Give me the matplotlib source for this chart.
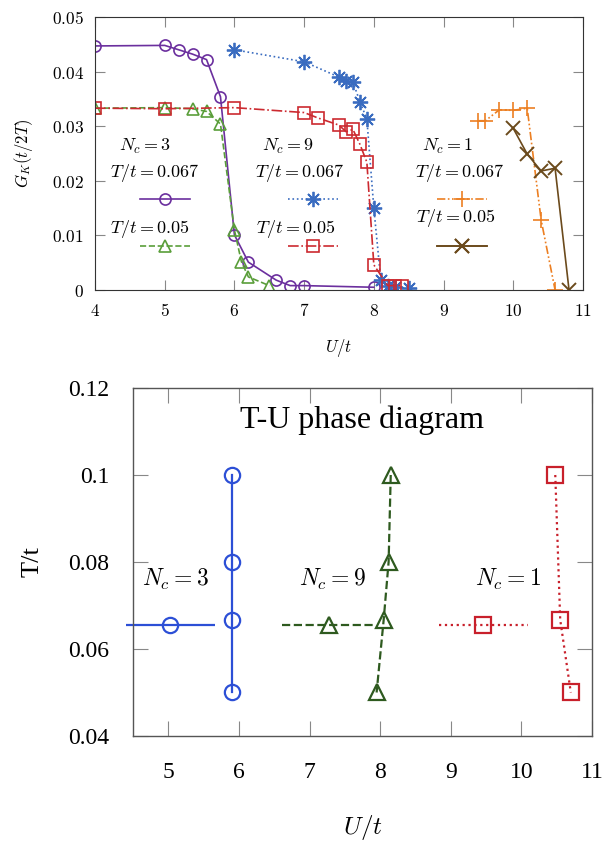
import matplotlib
matplotlib.use("Agg")
import matplotlib.pyplot as plt
from matplotlib.ticker import FuncFormatter

plt.rcParams['mathtext.fontset'] = 'cm'

# --- 上段: G_K(t/2T) vs U/t ---
u_nc3_t067 = [4.0, 5.0, 5.2, 5.4, 5.6, 5.8, 6.0, 6.2, 6.6, 6.8, 7.0, 8.0]
g_nc3_t067 = [0.0447, 0.0448, 0.0440, 0.0432, 0.0422, 0.0354, 0.0101, 0.0051, 0.0018, 0.0008, 0.0008, 0.0005]

u_nc3_t05 = [4.0, 5.0, 5.4, 5.6, 5.8, 6.0, 6.1, 6.2, 6.5]
g_nc3_t05 = [0.0333, 0.0334, 0.0332, 0.0327, 0.0304, 0.0110, 0.0052, 0.0024, 0.0008]

u_nc9_t067 = [6.0, 7.0, 7.5, 7.6, 7.7, 7.8, 7.9, 8.0, 8.1, 8.2, 8.3, 8.5]
g_nc9_t067 = [0.0440, 0.0418, 0.0390, 0.0382, 0.0381, 0.0345, 0.0313, 0.0150, 0.0018, 0.0008, 0.0005, 0.0003]

u_nc9_t05 = [4.0, 5.0, 6.0, 7.0, 7.2, 7.5, 7.6, 7.7, 7.8, 7.9, 8.0, 8.2, 8.3, 8.4]
g_nc9_t05 = [0.0333, 0.0332, 0.0334, 0.0325, 0.0315, 0.0302, 0.0290, 0.0294, 0.0267, 0.0234, 0.0046, 0.0008, 0.0008, 0.0008]

u_nc1_t067 = [9.5, 9.6, 9.8, 10.0, 10.2, 10.4, 10.6]
g_nc1_t067 = [0.0310, 0.0310, 0.0330, 0.0329, 0.0333, 0.0128, 0.0]

u_nc1_t05 = [10.0, 10.2, 10.4, 10.6, 10.8]
g_nc1_t05 = [0.0296, 0.0249, 0.0218, 0.0223, 0.0]

# --- 下段: T-U 相図 ---
pd_nc3_u = [5.9, 5.9, 5.9, 5.9]
pd_nc3_T = [0.1, 0.08, 0.0667, 0.05]
pd_nc9_u = [8.15, 8.12, 8.05, 7.95]
pd_nc9_T = [0.1, 0.08, 0.0667, 0.05]
pd_nc1_u = [10.48, 10.55, 10.7]
pd_nc1_T = [0.1, 0.0667, 0.05]

# 横方向のバー (T/t = 0.0655 付近)
bar_T = 0.0655
bar_u = [5.03, 7.27, 9.46]
bar_err = [0.63, 0.66, 0.63]

purple = '#6b2f9e'
green = '#5a9e3a'
blue = '#3a6cc0'
red = '#cc2a30'
orange = '#ec7f22'
brown = '#6b4a1c'

fig = plt.figure(figsize=(6.05, 8.42), dpi=100)

# ================= 上段 =================
ax1 = fig.add_axes([0.157, 0.6556, 0.8066, 0.3242])
lw = 1.2
ms = 8
h_nc3_t067, = ax1.plot(u_nc3_t067, g_nc3_t067, '-', color=purple, lw=lw,
                       marker='o', ms=ms, mfc='none', mew=1.2)
h_nc3_t05, = ax1.plot(u_nc3_t05, g_nc3_t05, '--', color=green, lw=lw,
                      marker='^', ms=ms, mfc='none', mew=1.2)
# gnuplot の '*' (+ と x の重ね)
h_nc9_t067, = ax1.plot(u_nc9_t067, g_nc9_t067, ':', color=blue, lw=lw,
                       marker=(8, 2, 0), ms=ms + 3, mew=1.3)
h_nc9_t05, = ax1.plot(u_nc9_t05, g_nc9_t05, '-.', color=red, lw=lw,
                      marker='s', ms=ms, mfc='none', mew=1.2)
h_nc1_t067, = ax1.plot(u_nc1_t067, g_nc1_t067, color=orange, lw=lw,
                       linestyle=(0, (5, 1.5, 1, 1.5, 1, 1.5)),
                       marker='+', ms=ms + 3, mew=1.2)
h_nc1_t05, = ax1.plot(u_nc1_t05, g_nc1_t05, '-', color=brown, lw=lw,
                      marker='x', ms=ms + 2, mew=1.4)

ax1.set_xlim(4, 11)
ax1.set_ylim(0, 0.05)
ax1.set_xticks(range(4, 12))
ax1.set_yticks([0, 0.01, 0.02, 0.03, 0.04, 0.05])
ax1.xaxis.set_major_formatter(FuncFormatter(lambda v, p: f'${v:g}$'))
ax1.yaxis.set_major_formatter(FuncFormatter(lambda v, p: f'${v:g}$'))
ax1.tick_params(direction='in', top=True, right=True, length=7, width=0.8,
                color='#888888', labelsize=12.5)
ax1.tick_params(axis='x', pad=9)
ax1.tick_params(axis='y', pad=8)
for s in ax1.spines.values():
    s.set_color('#333333')
    s.set_linewidth(0.8)
ax1.set_xlabel('$U/t$', fontsize=12, labelpad=12)
ax1.set_ylabel('$G_K(t/2T)$', fontsize=12, labelpad=12)

# 凡例の文字 (gnuplot 風に手動配置)
txt = dict(fontsize=13, ha='center', va='center')
ax1.text(4.72, 0.0262, '$N_c = 3$', **txt)
ax1.text(4.86, 0.0214, '$T/t = 0.067$', **txt)
ax1.text(4.79, 0.0111, '$T/t = 0.05$', **txt)
ax1.text(6.77, 0.0262, '$N_c = 9$', **txt)
ax1.text(6.94, 0.0214, '$T/t = 0.067$', **txt)
ax1.text(6.88, 0.0111, '$T/t = 0.05$', **txt)
ax1.text(9.05, 0.0262, '$N_c = 1$', **txt)
ax1.text(9.23, 0.0214, '$T/t = 0.067$', **txt)
ax1.text(9.17, 0.0131, '$T/t = 0.05$', **txt)

# 凡例のサンプル線
samples = [
    (h_nc3_t067, 5.0, 0.0165),
    (h_nc3_t05, 5.0, 0.0079),
    (h_nc9_t067, 7.13, 0.0165),
    (h_nc9_t05, 7.13, 0.0079),
    (h_nc1_t067, 9.27, 0.0165),
    (h_nc1_t05, 9.27, 0.0079),
]
for h, x, y in samples:
    leg = ax1.legend([h], [''], loc='center', bbox_to_anchor=(x, y),
                     bbox_transform=ax1.transData, frameon=False,
                     handlelength=3.0, handletextpad=0, borderpad=0,
                     borderaxespad=0, numpoints=1, fontsize=12)
    ax1.add_artist(leg)

# ================= 下段 =================
ax2 = fig.add_axes([0.2198, 0.1259, 0.7587, 0.4133])
lw2 = 1.6
ms2 = 11
ax2.plot(pd_nc3_u, pd_nc3_T, '-', color='#2c4fd6', lw=lw2,
         marker='o', ms=ms2, mfc='none', mew=1.6)
ax2.plot(pd_nc9_u, pd_nc9_T, '--', color='#2e5a1f', lw=lw2,
         marker='^', ms=ms2, mfc='none', mew=1.6)
ax2.plot(pd_nc1_u, pd_nc1_T, ':', color='#c8202b', lw=lw2,
         marker='s', ms=ms2, mfc='none', mew=1.6)

bar_styles = [('o', '#2c4fd6', '-'), ('^', '#2e5a1f', '--'), ('s', '#c8202b', ':')]
for u, err, (mk, col, ls) in zip(bar_u, bar_err, bar_styles):
    eb = ax2.errorbar(u, bar_T, xerr=err, fmt=mk, color=col, ms=ms2,
                      mfc='none', mew=1.6, elinewidth=lw2, capsize=0)
    eb[2][0].set_linestyle(ls)
    eb[2][0].set_clip_on(False)

ax2.set_xlim(4.5, 11)
ax2.set_ylim(0.04, 0.12)
ax2.set_xticks(range(5, 12))
ax2.set_yticks([0.04, 0.06, 0.08, 0.1, 0.12])
ax2.yaxis.set_major_formatter(FuncFormatter(lambda v, p: f'{v:g}'))
ax2.tick_params(direction='in', top=True, right=True, length=11, width=0.8,
                color='#888888', labelsize=17)
ax2.tick_params(axis='x', pad=19)
ax2.tick_params(axis='y', pad=17)
for lab in ax2.get_xticklabels() + ax2.get_yticklabels():
    lab.set_family('Liberation Serif')
for s in ax2.spines.values():
    s.set_color('#555555')
    s.set_linewidth(1.0)

ax2.set_xlabel('$U/t$', fontsize=18, labelpad=21)
ax2.set_ylabel('T/t', fontsize=19, family='Liberation Serif', labelpad=18)

ax2.text(7.75, 0.1125, 'T-U phase diagram', fontsize=23,
         family='Liberation Serif', ha='center', va='center')
txt2 = dict(fontsize=17, ha='center', va='center')
ax2.text(5.1, 0.0759, '$N_c = 3$', **txt2)
ax2.text(7.32, 0.0759, '$N_c = 9$', **txt2)
ax2.text(9.81, 0.0759, '$N_c = 1$', **txt2)

fig.savefig('out.png', dpi=100)
